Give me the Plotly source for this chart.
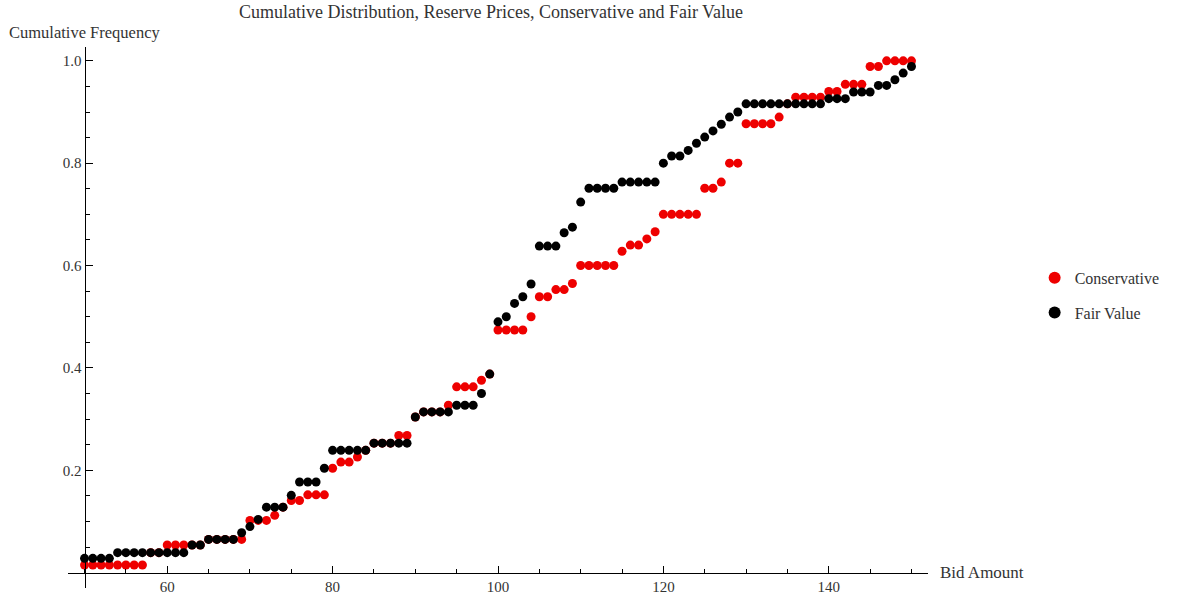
import numpy as np
import plotly.graph_objects as go

# Bid amounts (integer steps from 50 to 150)
bid_amount = list(range(50, 151))

# Cumulative frequency of reserve prices, conservative estimate
conservative = (
    [0.015] * 8                      # 50-57
    + [0.039] * 2                    # 58-59
    + [0.054] * 5                    # 60-64
    + [0.065] * 5                    # 65-69
    + [0.102, 0.102, 0.102, 0.112, 0.128]   # 70-74
    + [0.141, 0.141, 0.152, 0.152, 0.152]   # 75-79
    + [0.204, 0.216, 0.216, 0.226, 0.239]   # 80-84
    + [0.253, 0.253, 0.253, 0.268, 0.268]   # 85-89
    + [0.304, 0.314, 0.314, 0.314, 0.327]   # 90-94
    + [0.363, 0.363, 0.363, 0.376, 0.388]   # 95-99
    + [0.474, 0.474, 0.474, 0.474, 0.500]   # 100-104
    + [0.539, 0.539, 0.553, 0.553, 0.565]   # 105-109
    + [0.600, 0.600, 0.600, 0.600, 0.600]   # 110-114
    + [0.628, 0.640, 0.640, 0.652, 0.666]   # 115-119
    + [0.700, 0.700, 0.700, 0.700, 0.700]   # 120-124
    + [0.751, 0.751, 0.763, 0.800, 0.800]   # 125-129
    + [0.877, 0.877, 0.877, 0.877, 0.890]   # 130-134
    + [0.916, 0.929, 0.929, 0.929, 0.929]   # 135-139
    + [0.940, 0.940, 0.954, 0.954, 0.954]   # 140-144
    + [0.989, 0.989, 1.000, 1.000, 1.000, 1.000]  # 145-150
)

# Cumulative frequency of reserve prices, fair value estimate
fair_value = (
    [0.028] * 4                      # 50-53
    + [0.039] * 9                    # 54-62
    + [0.054] * 2                    # 63-64
    + [0.065] * 4                    # 65-68
    + [0.078]                        # 69
    + [0.090, 0.104, 0.128, 0.128, 0.128]   # 70-74
    + [0.151, 0.177, 0.177, 0.177, 0.204]   # 75-79
    + [0.239, 0.239, 0.239, 0.239, 0.239]   # 80-84
    + [0.253, 0.253, 0.253, 0.253, 0.253]   # 85-89
    + [0.304, 0.314, 0.314, 0.314, 0.314]   # 90-94
    + [0.327, 0.327, 0.327, 0.350, 0.388]   # 95-99
    + [0.490, 0.500, 0.526, 0.539, 0.564]   # 100-104
    + [0.638, 0.638, 0.638, 0.664, 0.675]   # 105-109
    + [0.724, 0.751, 0.751, 0.751, 0.751]   # 110-114
    + [0.763, 0.763, 0.763, 0.763, 0.763]   # 115-119
    + [0.800, 0.814, 0.814, 0.825, 0.839]   # 120-124
    + [0.851, 0.863, 0.876, 0.890, 0.900]   # 125-129
    + [0.916] * 10                   # 130-139
    + [0.926, 0.926, 0.926, 0.939, 0.939]   # 140-144
    + [0.939, 0.952, 0.952, 0.963, 0.976, 0.989]  # 145-150
)

x_ticks = [60, 80, 100, 120, 140]
y_ticks = [0.2, 0.4, 0.6, 0.8, 1.0]
y_tick_text = ["0.2", "0.4", "0.6", "0.8", "1.0"]

FONT = "Liberation Serif, Times New Roman, serif"
TEXT = "#333333"

X_RANGE = [48, 152]
Y_RANGE = [-0.03, 1.027]

fig = go.Figure()
fig.add_trace(go.Scatter(
    x=bid_amount, y=conservative, mode="markers", name="Conservative",
    marker=dict(color="#ee0000", size=9, line=dict(width=0)),
    legendgroup="a",
))
fig.add_trace(go.Scatter(
    x=bid_amount, y=fair_value, mode="markers", name="Fair Value",
    marker=dict(color="#000000", size=9, line=dict(width=0)),
    legendgroup="b",
))

# axes cross at (50, 0)
x_cross_pos = (0 - Y_RANGE[0]) / (Y_RANGE[1] - Y_RANGE[0])
y_cross_pos = (50 - X_RANGE[0]) / (X_RANGE[1] - X_RANGE[0])

fig.update_layout(
    width=1190, height=596,
    margin=dict(l=68, r=262, t=47, b=8, autoexpand=False),
    paper_bgcolor="white", plot_bgcolor="white",
    font=dict(family=FONT, color=TEXT, size=15),
    showlegend=True,
    legend=dict(
        x=1.124, y=0.541, xanchor="left", yanchor="middle",
        font=dict(family=FONT, size=16, color=TEXT),
        traceorder="grouped", tracegroupgap=11,
        itemsizing="constant", bgcolor="rgba(0,0,0,0)",
    ),
    xaxis=dict(
        range=X_RANGE, anchor="free", position=x_cross_pos, automargin=False,
        showgrid=False, zeroline=False,
        showline=True, linecolor="#000", linewidth=1,
        tickmode="array", tickvals=x_ticks,
        ticks="inside", ticklen=7, tickcolor="#000", tickwidth=1,
        minor=dict(tickmode="array", tickvals=list(np.arange(50, 151, 5)),
                   ticks="inside", ticklen=4, tickcolor="#000", tickwidth=1),
        tickfont=dict(family=FONT, size=15, color=TEXT),
    ),
    yaxis=dict(
        range=Y_RANGE, anchor="free", position=y_cross_pos, automargin=False,
        showgrid=False, zeroline=False,
        showline=True, linecolor="#000", linewidth=1,
        tickmode="array", tickvals=y_ticks, ticktext=y_tick_text,
        ticks="inside", ticklen=7, tickcolor="#000", tickwidth=1,
        minor=dict(tickmode="array", tickvals=list(np.round(np.arange(0.05, 1.01, 0.05), 2)),
                   ticks="inside", ticklen=4, tickcolor="#000", tickwidth=1),
        tickfont=dict(family=FONT, size=15, color=TEXT),
    ),
    annotations=[
        dict(text="Cumulative Distribution, Reserve Prices, Conservative and Fair Value",
             xref="paper", yref="paper", x=0.492, y=1.064, xanchor="center", yanchor="middle",
             showarrow=False, font=dict(family=FONT, size=18, color=TEXT)),
        dict(text="Cumulative Frequency",
             xref="paper", yref="paper", x=-0.071, y=1.026, xanchor="left", yanchor="middle",
             showarrow=False, font=dict(family=FONT, size=16.5, color=TEXT)),
        dict(text="Bid Amount",
             xref="paper", yref="y", x=1.012, y=0, xanchor="left", yanchor="middle",
             showarrow=False, font=dict(family=FONT, size=17, color=TEXT)),
    ],
)

fig.write_html("out.html")
